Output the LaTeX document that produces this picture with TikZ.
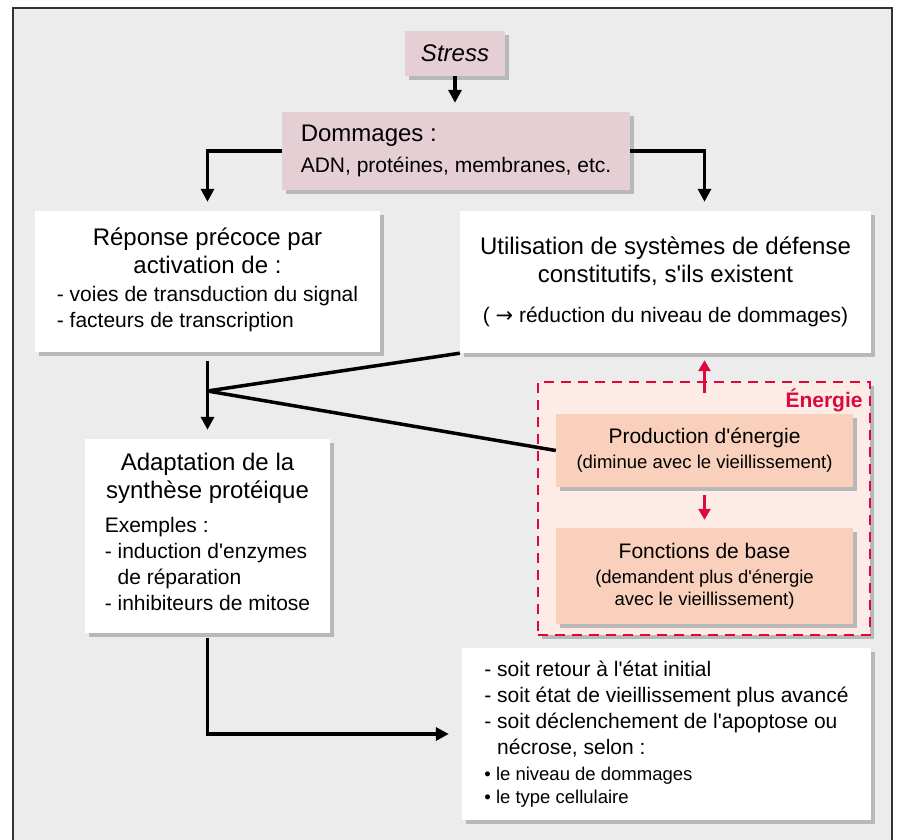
\documentclass[tikz,border=0pt]{standalone}
\usepackage{fontspec}
\setmainfont{Liberation Sans}
\newfontfamily\fleches{DejaVu Sans}
\usetikzlibrary{arrows.meta,shadows}
\definecolor{fond}{HTML}{ECECEC}
\definecolor{rose}{HTML}{E6CFD4}
\definecolor{saumon}{HTML}{F9D0BC}
\definecolor{peche}{HTML}{FDECE5}
\definecolor{rouge}{HTML}{DC0A3C}
\definecolor{ombre}{HTML}{B8B8B8}
\newcommand{\apo}{\textquotesingle}
\newcommand{\grand}{\fontsize{24}{28}\selectfont}
\newcommand{\moyen}{\fontsize{21}{26}\selectfont}
\newcommand{\petit}{\fontsize{18.5}{22.5}\selectfont}
\begin{document}
\begin{tikzpicture}[x=1pt,y=-1pt,
 boite/.style={fill=white,inner sep=0pt,align=center,drop shadow={shadow xshift=3.5pt,shadow yshift=-3.5pt,fill=ombre,opacity=1}},
 trait/.style={line width=3.5pt},
 fleche/.style={line width=3.5pt,-{Triangle[length=13pt,width=13pt]}},
 rfleche/.style={line width=3pt,rouge,-{Triangle[length=11pt,width=12pt]}}]
 \path[use as bounding box,fill=white](0,0) rectangle (897,839);
 \draw[fill=fond,draw=black!80,line width=1.3pt](13,8) rectangle (892,845);
 \node[boite,fill=rose,minimum width=100pt,minimum height=45pt,font=\grand\itshape] (stress) at (455,53.5) {Stress};
 \node[boite,fill=rose,minimum width=348pt,minimum height=78pt,align=left,font=\grand] (dommages) at (456,151) {Dommages :\\[3pt]{\moyen ADN, protéines, membranes, etc.}};
 \node[boite,minimum width=345pt,minimum height=141pt,font=\grand] (reponse) at (207.5,281.5) {Réponse précoce par\\activation de :\\{\moyen\begin{tabular}[t]{@{}l@{}}- voies de transduction du signal\\- facteurs de transcription\end{tabular}}};
 \node[boite,minimum width=411pt,minimum height=142pt,font=\grand] (utilisation) at (665.5,282) {Utilisation de systèmes de défense\\constitutifs, s\apo ils existent\\[12pt]{\moyen ( {\fleches →} réduction du niveau de dommages)}};
 \node[draw=rouge,dash pattern=on 10pt off 7pt,line width=1.5pt,fill=peche,minimum width=332pt,minimum height=253pt,drop shadow={shadow xshift=3.5pt,shadow yshift=-3.5pt,fill=ombre,opacity=1}] (energie) at (704,508.5) {};
 \node[anchor=north east,inner sep=0pt,text=rouge,font=\moyen\bfseries] (nomenergie) at ([xshift=-8pt,yshift=-7pt]energie.north east) {Énergie};
 \node[boite,fill=saumon,minimum width=297pt,minimum height=73pt,font=\moyen] (production) at (704.5,450.5) {Production d\apo énergie\\[-1pt]{\petit (diminue avec le vieillissement)}};
 \node[boite,fill=saumon,minimum width=297pt,minimum height=96pt,font=\moyen] (fonctions) at (704.5,576) {Fonctions de base\\[-1pt]{\petit (demandent plus d\apo énergie}\\[-4pt]{\petit avec le vieillissement)}};
 \node[boite,minimum width=245pt,minimum height=194pt,font=\grand] (adaptation) at (207.5,536) {Adaptation de la\\synthèse protéique\\[6pt]{\moyen\begin{tabular}[t]{@{}l@{}}Exemples :\\- induction d\apo enzymes\\\hphantom{- }de réparation\\- inhibiteurs de mitose\end{tabular}}};
 \node[boite,minimum width=409pt,minimum height=172pt,align=left,font=\moyen] (issue) at (666.5,734) {- soit retour à l\apo état initial\\- soit état de vieillissement plus avancé\\- soit déclenchement de l\apo apoptose ou\\\hphantom{- }nécrose, selon :\\{\petit • le niveau de dommages}\\[-3pt]{\petit • le type cellulaire}};
 \coordinate (j) at (207.5,391);
 \draw[fleche,shorten >=9pt](stress.south) -- (stress.south |- dommages.north);
 \draw[fleche,shorten >=9pt](dommages.west) -| (reponse.north);
 \draw[fleche,shorten >=9pt](dommages.east) -| ([xshift=39pt]utilisation.north);
 \draw[fleche,shorten <=9pt,shorten >=9pt](reponse.south) -- (adaptation.north);
 \draw[trait](j) -- (utilisation.south west);
 \draw[trait](j) -- (production.west);
 \draw[fleche,shorten <=5pt,shorten >=13pt](adaptation.south) |- (issue.west);
 \draw[rfleche,shorten <=21pt,shorten >=7pt](production.north) -- (production.north |- utilisation.south);
 \draw[rfleche,shorten <=8pt,shorten >=8pt](production.south) -- (fonctions.north);
\end{tikzpicture}
\end{document}
